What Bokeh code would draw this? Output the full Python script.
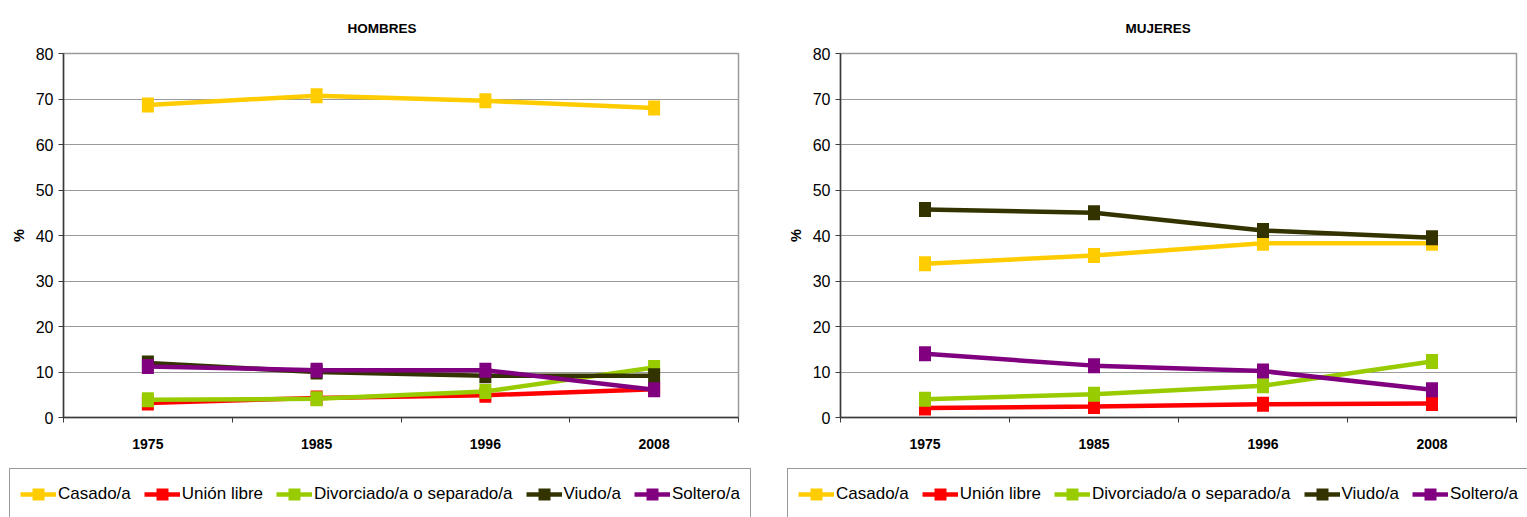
from bokeh.plotting import figure
from bokeh.layouts import row, column
from bokeh.models import FixedTicker, Legend, LegendItem, Range1d, ColumnDataSource
from bokeh.embed import file_html
from bokeh.resources import INLINE

# ---------------- data ----------------
years = ["1975", "1985", "1996", "2008"]
series_names = ["Casado/a", "Unión libre", "Divorciado/a o separado/a", "Viudo/a", "Soltero/a"]
series_colors = ["#FFCC00", "#FF0000", "#99CC00", "#333300", "#800080"]
y_ticks = [0, 10, 20, 30, 40, 50, 60, 70, 80]

hombres_casado = [68.7, 70.7, 69.6, 68.0]
hombres_union_libre = [3.2, 4.3, 4.9, 6.2]
hombres_divorciado = [3.9, 4.1, 5.7, 11.0]
hombres_viudo = [12.0, 10.0, 9.2, 9.2]
hombres_soltero = [11.2, 10.4, 10.4, 6.1]

mujeres_casado = [33.8, 35.6, 38.3, 38.3]
mujeres_union_libre = [2.1, 2.4, 2.9, 3.1]
mujeres_divorciado = [4.0, 5.1, 7.0, 12.3]
mujeres_viudo = [45.7, 45.0, 41.1, 39.5]
mujeres_soltero = [14.0, 11.4, 10.2, 6.1]

hombres = [hombres_casado, hombres_union_libre, hombres_divorciado, hombres_viudo, hombres_soltero]
mujeres = [mujeres_casado, mujeres_union_libre, mujeres_divorciado, mujeres_viudo, mujeres_soltero]

FONT = "Liberation Sans"
AXIS_COLOR = "#3a3a3a"
GRID_COLOR = "#9a9a9a"


def make_panel(title, data, width, border_left, border_right, title_offset):
    xs = list(range(len(years)))
    p = figure(width=width, height=462, output_backend="svg", toolbar_location=None,
               x_range=Range1d(-0.5, len(years) - 0.5), y_range=Range1d(y_ticks[0], y_ticks[-1]),
               min_border_left=border_left, min_border_right=border_right,
               min_border_top=53, min_border_bottom=45)
    p.background_fill_color = "white"
    p.border_fill_color = "white"
    p.outline_line_color = GRID_COLOR
    p.outline_line_width = 1.5

    # title
    p.title.text = title
    p.title.align = "left"
    p.title.offset = title_offset
    p.title.vertical_align = "top"
    p.title.text_font = FONT
    p.title.text_font_size = "13.5px"
    p.title.text_font_style = "bold"
    p.title.text_color = "black"
    p.title.standoff = 32

    # grid
    p.xgrid.visible = False
    p.ygrid.grid_line_color = GRID_COLOR
    p.ygrid.grid_line_width = 1

    # y axis
    ya = p.yaxis[0]
    ya.ticker = FixedTicker(ticks=y_ticks)
    ya.axis_line_color = AXIS_COLOR
    ya.axis_line_width = 1.5
    ya.major_tick_line_color = AXIS_COLOR
    ya.major_tick_out = 5
    ya.major_tick_in = 0
    ya.minor_tick_line_color = None
    ya.major_label_standoff = 5
    ya.major_label_text_font = FONT
    ya.major_label_text_font_size = "16px"
    ya.major_label_text_color = "black"
    ya.axis_label = "%"
    ya.axis_label_text_font = FONT
    ya.axis_label_text_font_size = "14.5px"
    ya.axis_label_text_font_style = "bold"
    ya.axis_label_text_color = "black"
    ya.axis_label_standoff = 6

    # x axis: labels at category centres, ticks at category boundaries
    xa = p.xaxis[0]
    xa.ticker = FixedTicker(ticks=xs, minor_ticks=[i - 0.5 for i in range(len(years) + 1)])
    xa.major_label_overrides = {i: y for i, y in enumerate(years)}
    xa.axis_line_color = AXIS_COLOR
    xa.axis_line_width = 1.5
    xa.major_tick_line_color = None
    xa.major_tick_out = 0
    xa.major_tick_in = 0
    xa.minor_tick_line_color = AXIS_COLOR
    xa.minor_tick_out = 5
    xa.minor_tick_in = 0
    xa.major_label_standoff = 16
    xa.major_label_text_font = FONT
    xa.major_label_text_font_size = "14px"
    xa.major_label_text_font_style = "bold"
    xa.major_label_text_color = "black"

    for name, color, vals in zip(series_names, series_colors, data):
        src = ColumnDataSource(dict(x=xs, y=vals))
        p.line("x", "y", source=src, line_color=color, line_width=4.5)
        p.rect("x", "y", source=src, width=12, height=15, width_units="screen",
               height_units="screen", fill_color=color, line_color=None)
    return p


def make_legend(width, left, data):
    # a strip holding only the legend box; its renderers are hidden, only the key is shown
    xs = list(range(len(years)))
    lf = figure(width=width, height=55, output_backend="svg", toolbar_location=None,
                x_axis_type=None, y_axis_type=None, x_range=Range1d(-0.5, len(years) - 0.5),
                y_range=Range1d(y_ticks[0], y_ticks[-1]),
                min_border=0, min_border_left=0, min_border_right=0,
                min_border_top=0, min_border_bottom=0)
    lf.outline_line_color = None
    lf.background_fill_color = "white"
    lf.border_fill_color = "white"
    lf.xgrid.visible = False
    lf.ygrid.visible = False
    items = []
    for name, color, vals in zip(series_names, series_colors, data):
        src = ColumnDataSource(dict(x=xs, y=vals))
        lr = lf.line("x", "y", source=src, line_color=color, line_width=4.5, visible=False)
        mr = lf.scatter("x", "y", source=src, marker="square", fill_color=color,
                        line_color=None, visible=False)
        items.append(LegendItem(label=name, renderers=[lr, mr]))
    legend = Legend(items=items, orientation="horizontal", location=(left, -3))
    legend.margin = 0
    legend.inactive_fill_alpha = 0
    legend.label_text_font = FONT
    legend.label_text_font_size = "17px"
    legend.label_text_color = "black"
    legend.label_standoff = 2
    legend.glyph_width = 36
    legend.glyph_height = 30
    legend.padding = 10
    legend.spacing = 13
    legend.border_line_color = "#333333"
    legend.border_line_width = 1
    legend.background_fill_color = "white"
    legend.background_fill_alpha = 1
    lf.add_layout(legend, "center")
    return lf


p1 = make_panel("HOMBRES", hombres, 776, 63, 38, 284)
p2 = make_panel("MUJERES", mujeres, 751, 64, 11, 285)
l1 = make_legend(776, 9, hombres)
l2 = make_legend(751, 11, mujeres)

layout = column(row(p1, p2), row(l1, l2))
open("out.html", "w").write(file_html(layout, INLINE))
